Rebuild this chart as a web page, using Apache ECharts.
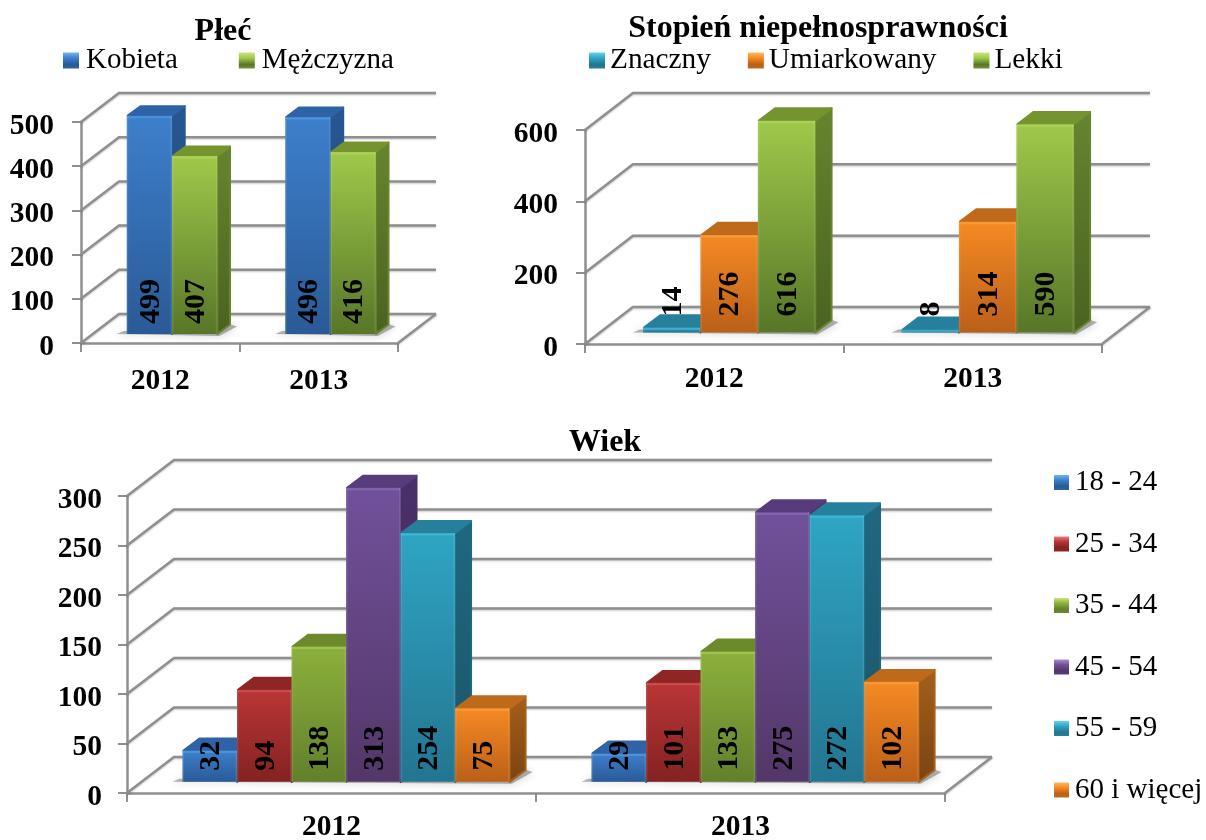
<!DOCTYPE html>
<html><head><meta charset="utf-8">
<style>html,body{margin:0;padding:0;background:#fff}#c{width:1206px;height:840px}</style>
<script src="https://cdn.jsdelivr.net/npm/echarts@6/dist/echarts.min.js"></script>
</head><body><div id="c"></div>
<script>
const categories = ['2012', '2013'];

const plecNames = ['Kobieta', 'Mężczyzna'];
const kobieta = [499, 496];
const mezczyzna = [407, 416];
const plecTicks = [0, 100, 200, 300, 400, 500];

const stopienNames = ['Znaczny', 'Umiarkowany', 'Lekki'];
const znaczny = [14, 8];
const umiarkowany = [276, 314];
const lekki = [616, 590];
const stopienTicks = [0, 200, 400, 600];

const wiekNames = ['18 - 24', '25 - 34', '35 - 44', '45 - 54', '55 - 59', '60 i więcej'];
const wiek1824 = [32, 29];
const wiek2534 = [94, 101];
const wiek3544 = [138, 133];
const wiek4554 = [313, 275];
const wiek5559 = [254, 272];
const wiek60 = [75, 102];
const wiekTicks = [0, 50, 100, 150, 200, 250, 300];

const FONT = '"Liberation Serif","Times New Roman",serif';
const GRID_COLOR = '#8f8f8f';
const palettes = {
  blue:   {hi:'#6fb6f2', top:'#2f62a6', side:['#28568f','#214a7c'], front:['#3d7fcc','#2a5a96']},
  green:  {hi:'#c9e67a', top:'#75942f', side:['#66852f','#4a6220'], front:['#9fc94a','#587628']},
  green2: {hi:'#c9e67a', top:'#6c8a2c', side:['#66852f','#4a6220'], front:['#8cb03c','#62802c']},
  orange: {hi:'#ffb766', top:'#bf6a1a', side:['#a55f1c','#7a4411'], front:['#f58a24','#bb5f18']},
  cyan:   {hi:'#63d3ee', top:'#26809b', side:['#1f6880','#1a5568'], front:['#2fa5c4','#237590']},
  purple: {hi:'#a98ad2', top:'#573b7a', side:['#4a3068','#432c5e'], front:['#71519b','#533768']},
  red:    {hi:'#ee7a7a', top:'#8e2626', side:['#7c2222','#6a1c1c'], front:['#ba3535','#842222']}
};
const FRONT = 0.31, DEPTH = 0.36, BAR_SCALE = 0.99, GAP = 1.5;
const grad = c => new echarts.graphic.LinearGradient(0, 0, 0, 1, [{offset:0,color:c[0]},{offset:1,color:c[1]}]);

const panels = [
  {left:81, top:122, width:317, height:221, max:500, interval:100, dx:38, dy:29, ticks:plecTicks,
   names:plecNames, vals:[kobieta,mezczyzna], pals:['blue','green'], lift:10, axisMargin:27, xMargin:23},
  {left:585, top:130, width:517, height:214, max:600, interval:200, dx:48, dy:37, ticks:stopienTicks,
   names:stopienNames, vals:[znaczny,umiarkowany,lekki], pals:['cyan','orange','green'], lift:16, axisMargin:27, xMargin:20},
  {left:127, top:496, width:818, height:297, max:300, interval:50, dx:47, dy:36, ticks:wiekTicks,
   names:wiekNames, vals:[wiek1824,wiek2534,wiek3544,wiek4554,wiek5559,wiek60], pals:['blue','red','green2','purple','cyan','orange'], lift:11, axisMargin:25, xMargin:19}
];

function wallRender(p){
  return function(params, api){
    const v = api.value(1);
    const y = api.coord([0, v])[1];
    const cs = params.coordSys;
    const x0 = cs.x, x1 = cs.x + cs.width;
    const line = {stroke:GRID_COLOR, lineWidth:2.5, fill:null, shadowColor:'rgba(0,0,0,0.22)', shadowBlur:2, shadowOffsetY:1};
    const kids = [{type:'polyline', shape:{points:[[x0,y],[x0+p.dx,y-p.dy],[x1+p.dx,y-p.dy]]}, style:line}];
    if (v === 0) kids.push({type:'line', shape:{x1:x1,y1:y,x2:x1+p.dx,y2:y-p.dy}, style:line});
    return {type:'group', children:kids};
  };
}
function shadowRender(p){
  const n = p.vals.length;
  return function(params, api){
    const cat = api.value(0);
    const band = api.size([1,0])[0];
    const c = api.coord([cat,0]);
    const w = band/(n+GAP);
    const xs = c[0]+p.dx*FRONT-w*n/2, xe = xs+w*n, base = c[1]-p.dy*FRONT;
    const bx = p.dx*DEPTH, by = p.dy*DEPTH;
    return {type:'polygon', shape:{points:[[xs-10,base],[xe+2,base+2],[xe+bx+6,base-by+3],[xe+bx-3,base-by],[xe,base-4],[xs-3,base-3]]},
      style:{fill:'rgba(70,70,70,0.4)', shadowColor:'rgba(0,0,0,0.5)', shadowBlur:9}};
  };
}
function barRender(p, idx){
  const n = p.vals.length, pal = palettes[p.pals[idx]];
  return function(params, api){
    const cat = api.value(0), raw = api.value(1);
    const band = api.size([1,0])[0];
    const c = api.coord([cat,0]);
    const w = band/(n+GAP);
    const x = c[0]+p.dx*FRONT-w*n/2+w*idx;
    const base = c[1]-p.dy*FRONT;
    const h = (c[1]-api.coord([cat,Math.min(raw,p.max)])[1])*BAR_SCALE;
    const t = base-h;
    const bx = p.dx*DEPTH, by = p.dy*DEPTH;
    const r = x+w;
    return {type:'group', children:[
      {type:'polygon', shape:{points:[[r,t],[r+bx-1,t-by+1],[r+bx-1,base-by+1],[r,base]]}, style:{fill:grad(pal.side),stroke:pal.side[0],lineWidth:2,lineJoin:'round'}},
      {type:'polygon', shape:{points:[[x+1,t],[x+bx,t-by+1],[r+bx-1,t-by+1],[r,t]]}, style:{fill:pal.top,stroke:pal.top,lineWidth:2,lineJoin:'round'}},
      {type:'rect', shape:{x:x,y:t,width:w,height:h}, style:{fill:grad(pal.front)}},
      {type:'rect', shape:{x:x+0.5,y:t+0.5,width:w-1,height:2}, style:{fill:pal.hi,opacity:0.35}},
      {type:'rect', shape:{x:x,y:t,width:1.5,height:h}, style:{fill:'#ffffff',opacity:0.1}},
      {type:'rect', shape:{x:r-1.5,y:t,width:1.5,height:h}, style:{fill:'#ffffff',opacity:0.1}},
      {type:'text', x:x+w/2+1.5, y:base-p.lift, rotation:Math.PI/2, z2:10,
       style:{text:String(raw), font:'bold 30px '+FONT, fill:'#000', align:'left', verticalAlign:'middle'}}
    ]};
  };
}

const grid=[], xAxis=[], yAxis=[], series=[];
panels.forEach((p,g)=>{
  grid.push({left:p.left, top:p.top, width:p.width, height:p.height, containLabel:false, outerBoundsMode:'none'});
  xAxis.push({type:'category', gridIndex:g, data:categories,
    axisLine:{show:true,lineStyle:{color:GRID_COLOR,width:2.5}},
    axisTick:{show:true,length:9,lineStyle:{color:GRID_COLOR,width:2}},
    axisLabel:{color:'#000',fontFamily:FONT,fontWeight:'bold',fontSize:29.5,margin:p.xMargin,interval:0},
    splitLine:{show:false}});
  yAxis.push({type:'value', gridIndex:g, min:0, max:p.max, interval:p.interval,
    axisLine:{show:true,lineStyle:{color:GRID_COLOR,width:2.5}},
    axisTick:{show:true,length:9,lineStyle:{color:GRID_COLOR,width:2}},
    axisLabel:{color:'#000',fontFamily:FONT,fontWeight:'bold',fontSize:29.5,margin:p.axisMargin,verticalAlign:'top',lineHeight:8},
    splitLine:{show:false}});
  series.push({type:'custom', name:'wall'+g, xAxisIndex:g, yAxisIndex:g, silent:true, z:1,
    data:p.ticks.map(v=>[0,v]), encode:{x:0,y:1}, renderItem:wallRender(p)});
  series.push({type:'custom', name:'shadow'+g, xAxisIndex:g, yAxisIndex:g, silent:true, z:2,
    data:categories.map((_,i)=>[i,0]), encode:{x:0,y:1}, renderItem:shadowRender(p)});
  p.names.forEach((name,i)=>{
    const pal = palettes[p.pals[i]];
    series.push({type:'custom', name:name, xAxisIndex:g, yAxisIndex:g, z:3+i,
      itemStyle:{color:pal.front[0]},
      data:p.vals[i].map((v,k)=>[k,v]), encode:{x:0,y:1}, renderItem:barRender(p,i)});
  });
});
const legendItem = (name,palName)=>{
  const pal = palettes[palName];
  return {name:name, icon:'rect', itemStyle:{color:new echarts.graphic.LinearGradient(0,0,0,1,[
    {offset:0,color:pal.hi},{offset:0.35,color:pal.front[0]},{offset:0.75,color:pal.front[1]},{offset:1,color:pal.top}])}};
};
const legendText = {color:'#000',fontFamily:FONT,fontSize:29};
const titleStyle = {fontFamily:FONT,fontWeight:'bold',fontSize:32,color:'#000'};
const option = {
  animation:false, backgroundColor:'#fff',
  title:[
    {text:'Płeć', left:223, top:16, padding:0, textAlign:'center', textStyle:titleStyle},
    {text:'Stopień niepełnosprawności', left:818, top:13, padding:0, textAlign:'center', textStyle:titleStyle},
    {text:'Wiek', left:605, top:427, padding:0, textAlign:'center', textStyle:titleStyle}
  ],
  legend:[
    {left:63, top:46, itemWidth:16, itemHeight:16, itemGap:61, textStyle:{...legendText,padding:[0,0,0,2]}, selectedMode:false, padding:0,
     data:panels[0].names.map((n,i)=>legendItem(n,panels[0].pals[i]))},
    {left:589, top:46, itemWidth:16, itemHeight:16, itemGap:37, textStyle:{...legendText,fontSize:29.3,padding:[0,0,0,0]}, selectedMode:false, padding:0,
     data:panels[1].names.map((n,i)=>legendItem(n,panels[1].pals[i]))},
    {left:1054, top:468, orient:'vertical', itemWidth:15, itemHeight:15, itemGap:32.5, textStyle:{...legendText,padding:[0,0,0,1]}, selectedMode:false, padding:0,
     data:panels[2].names.map((n,i)=>legendItem(n,panels[2].pals[i]))}
  ],
  grid, xAxis, yAxis, series
};
echarts.init(document.getElementById('c'),null,{renderer:'canvas'}).setOption(option);
</script></body></html>
